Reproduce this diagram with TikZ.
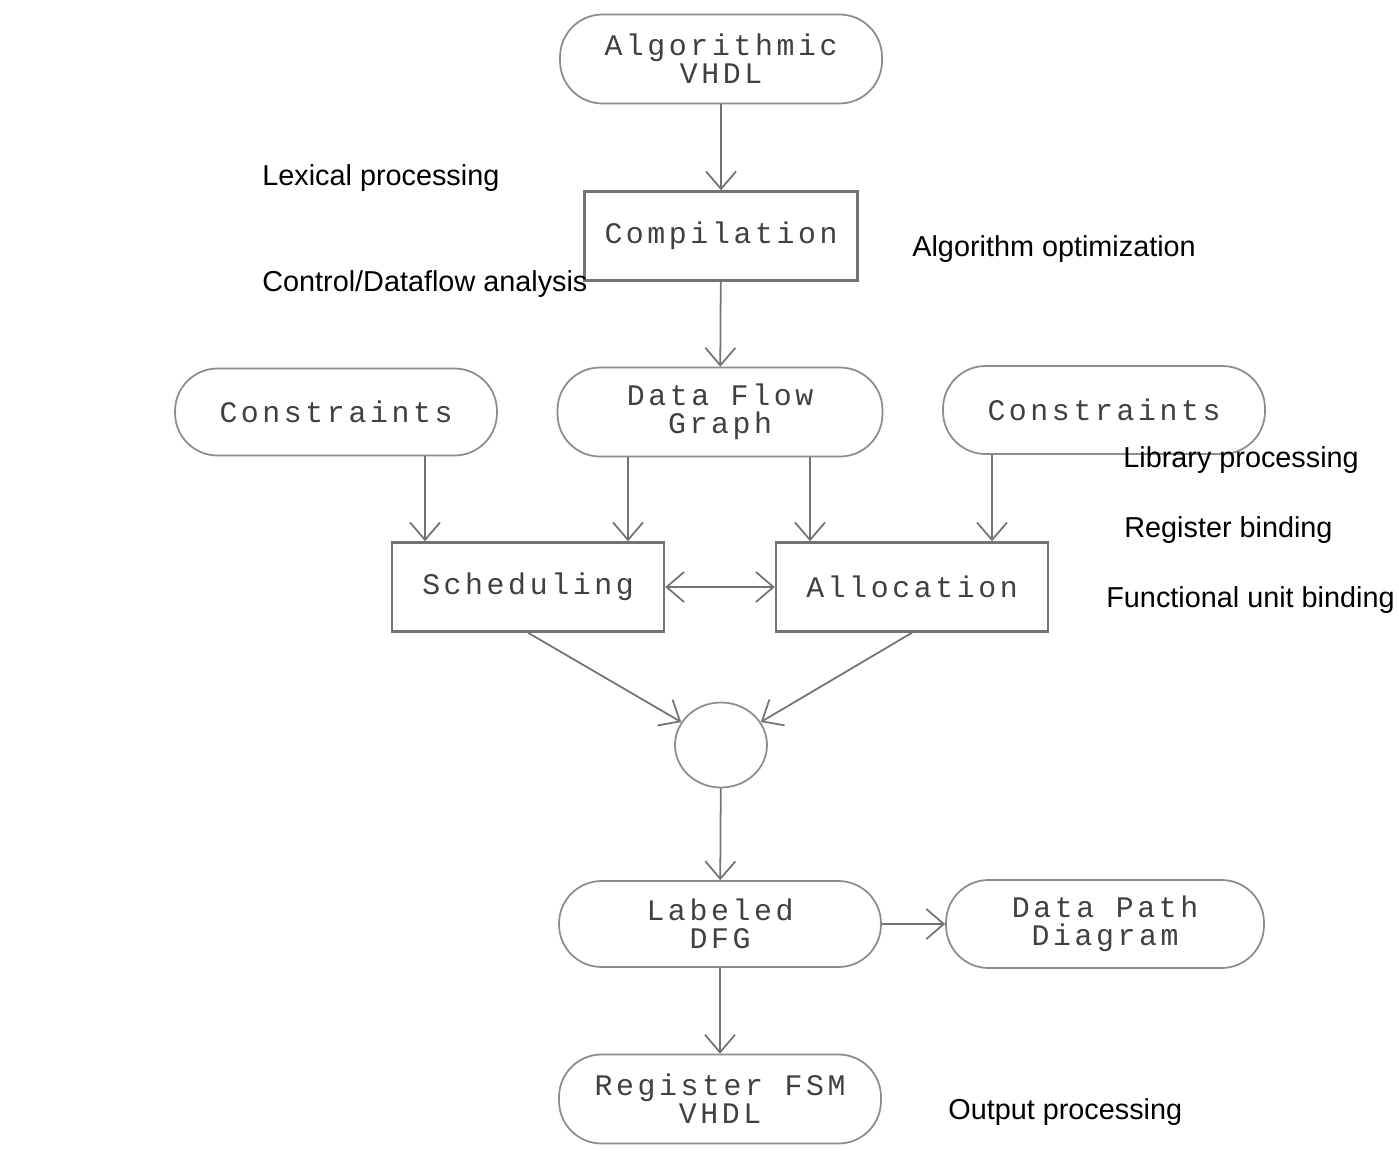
\documentclass[tikz,border=0pt]{standalone}
\usepackage{fontspec}
\setmainfont{Liberation Sans}
\newfontfamily\boxfont[LetterSpace=12]{Liberation Mono}
\usetikzlibrary{arrows.meta,calc,shapes.geometric}

\tikzset{
	stadium/.style={draw=black!45, line width=1pt, rounded corners=0.85cm, minimum width=6.44cm, minimum height=1.78cm, align=center, text=black!75, font=\boxfont\fontsize{17}{16}\selectfont},
	stepbox/.style={draw=black!55, line width=1.4pt, minimum width=5.44cm, minimum height=1.78cm, text=black!75, font=\boxfont\fontsize{17}{16}\selectfont},
	flow/.style={draw=black!55, line width=1pt, -{Straight Barb[length=0.35cm,width=0.6cm]}},
	note/.style={anchor=west, inner sep=0pt, font=\fontsize{16.4}{19}\selectfont}
}

\begin{document}
\begin{tikzpicture}[x=0.02cm, y=-0.02cm]
		\useasboundingbox (0,0) rectangle (1399,1150);

		\node[stadium] (alg) at (721,59) {Algorithmic\\VHDL};
		\node[stepbox, minimum width=5.46cm] (comp) at (721,236) {Compilation};
		\node[stadium, minimum width=6.5cm] (dfg) at (720,412) {Data Flow\\Graph};
		\node[stadium, minimum height=1.74cm] (consl) at (336,412) {Constraints};
		\node[stadium, minimum height=1.76cm] (consr) at (1104,410) {Constraints};
		\node[stepbox] (sched) at (528,587) {Scheduling};
		\node[stepbox] (alloc) at (912,587) {Allocation};
		\node[draw=black!45, line width=1pt, ellipse, minimum width=1.84cm, minimum height=1.7cm] (join) at (721,745) {};
		\node[stadium, minimum height=1.72cm] (ldfg) at (720,924) {Labeled\\DFG};
		\node[stadium, minimum width=6.36cm, minimum height=1.76cm] (dpd) at (1105,924) {Data Path\\Diagram};
		\node[stadium] (reg) at (720,1099) {Register FSM\\VHDL};

		\node[note] (lex) at (262,178) {Lexical processing};
		\node[note] (cda) at (262,284) {Control/Dataflow analysis};
		\node[note] (opt) at (912,249) {Algorithm optimization};
		\node[note] (lib) at (1123,460) {Library processing};
		\node[note] (rb) at (1124,530) {Register binding};
		\node[note] (fub) at (1106,600) {Functional unit binding};
		\node[note] (outp) at (948,1112) {Output processing};

		\draw[flow] (alg) -- (comp);
		\draw[flow] (comp) -- (dfg);
		\draw[flow] ($(consl.south)+(89,0)$) coordinate (a1) -- (a1 |- sched.north);
		\draw[flow] ($(dfg.south)+(-92,0)$) coordinate (a2) -- (a2 |- sched.north);
		\draw[flow] ($(dfg.south)+(90,0)$) coordinate (a3) -- (a3 |- alloc.north);
		\draw[flow] ($(consr.south)+(-112,0)$) coordinate (a4) -- (a4 |- alloc.north);
		\draw[flow, {Straight Barb[length=0.35cm,width=0.6cm]}-{Straight Barb[length=0.35cm,width=0.6cm]}] (sched) -- (alloc);
		\draw[flow] (sched.south) -- (join.150);
		\draw[flow] (alloc.south) -- (join.30);
		\draw[flow] (join) -- (ldfg);
		\draw[flow] (ldfg) -- (dpd);
		\draw[flow] (ldfg) -- (reg);
	\end{tikzpicture}
\end{document}
